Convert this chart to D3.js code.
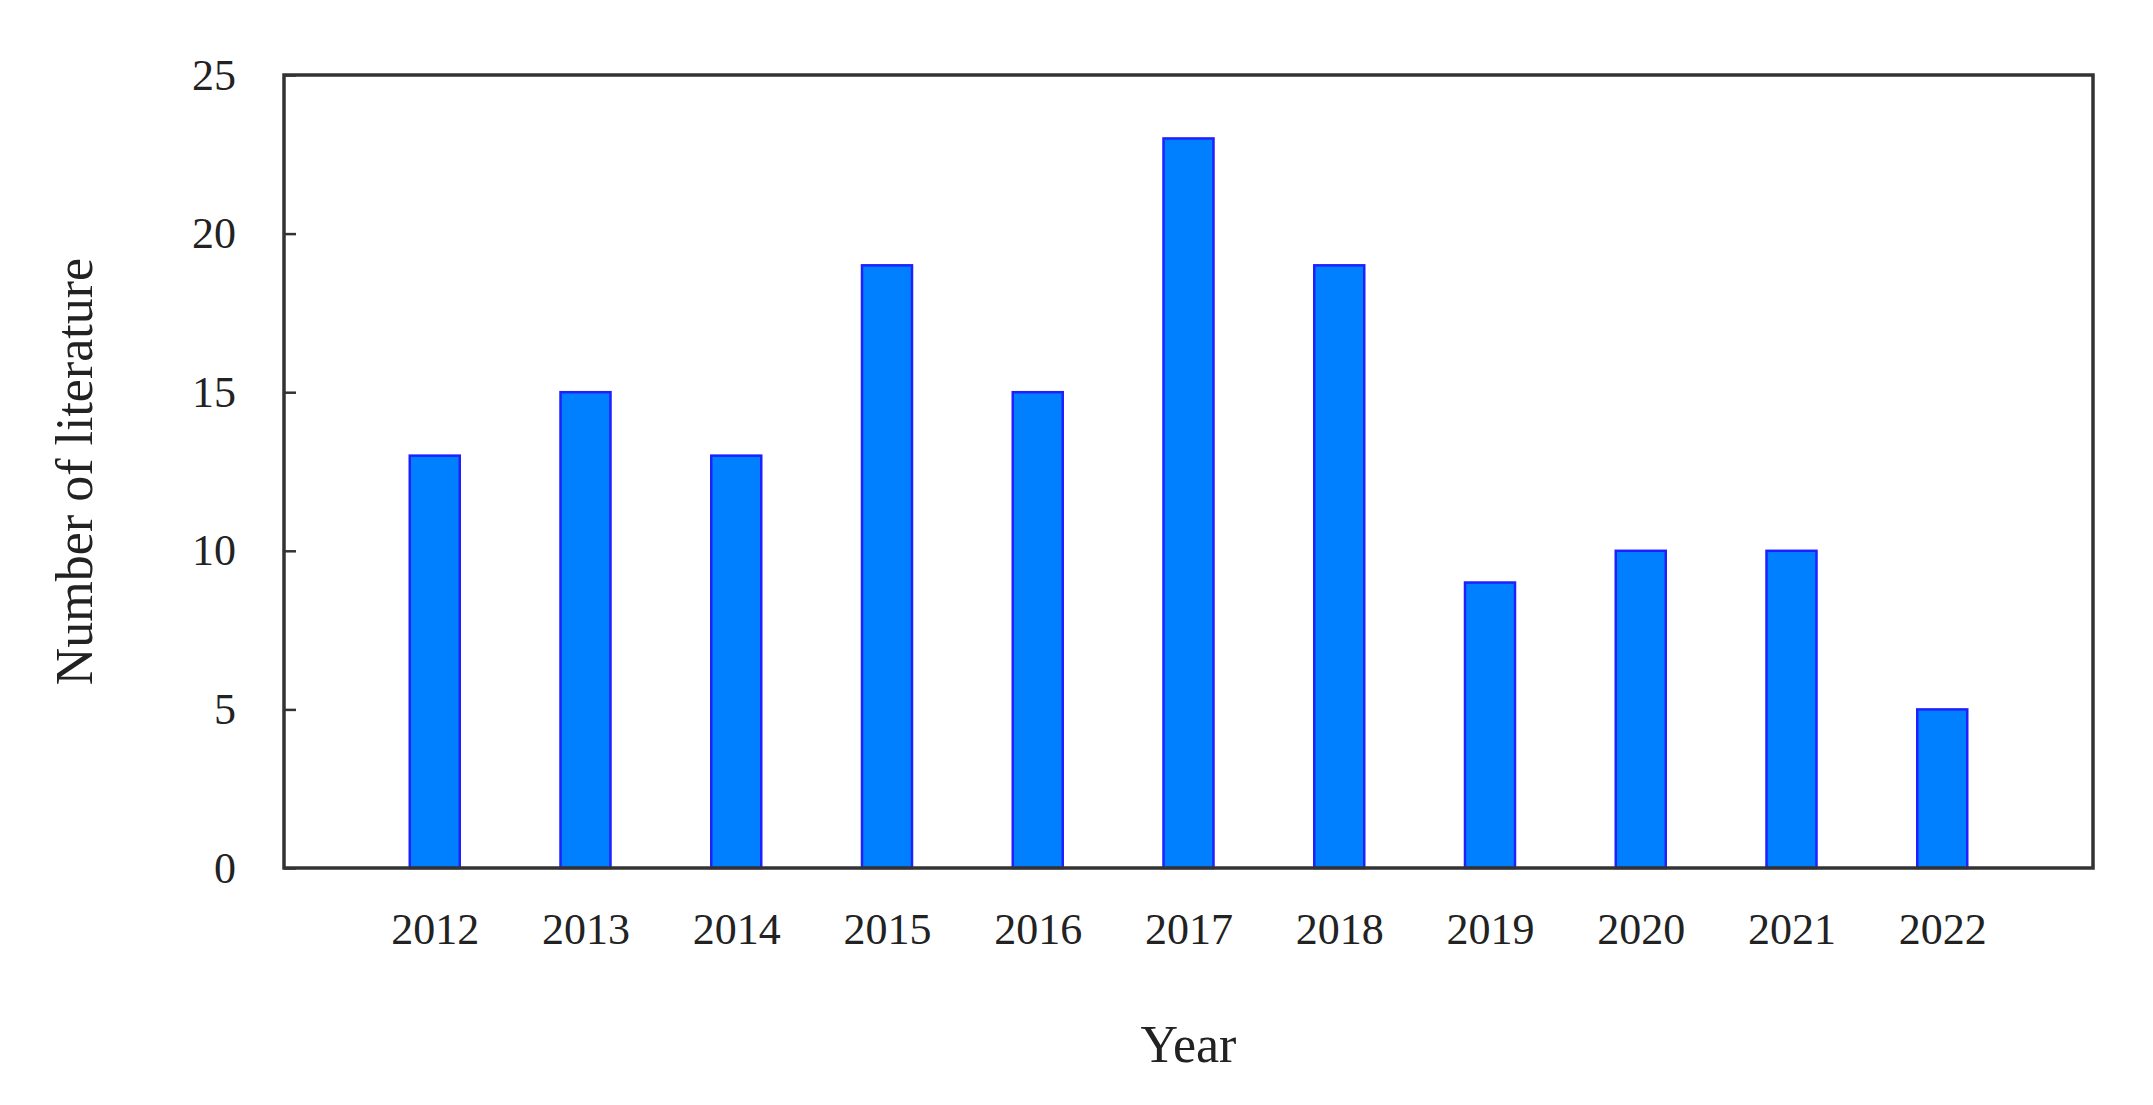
<!DOCTYPE html><html><head><meta charset="utf-8">
<script src="https://cdn.jsdelivr.net/npm/d3@7"></script>
<style>body{margin:0;background:#fff}text{font-family:"Liberation Serif","DejaVu Serif",serif;fill:#222}</style>
</head><body><script>
const years=["2012","2013","2014","2015","2016","2017","2018","2019","2020","2021","2022"];
const counts=[13,15,13,19,15,23,19,9,10,10,5];
const yTicks=[0,5,10,15,20,25];
const W=2153,H=1105,L=284,R=2093,T=75,B=868;
const svg=d3.select("body").append("svg").attr("width",W).attr("height",H);
const x=d3.scalePoint().domain(years).range([L,R]).padding(1);
const y=d3.scaleLinear().domain([0,25]).range([B,T]);
const bw=50;
svg.selectAll("rect.bar").data(years).enter().append("rect").attr("class","bar")
 .attr("x",d=>x(d)-bw/2).attr("width",bw)
 .attr("y",(d,i)=>y(counts[i])).attr("height",(d,i)=>B-y(counts[i]))
 .attr("fill","#0080ff").attr("stroke","#2020ff").attr("stroke-width",2.5);
svg.append("rect").attr("x",L).attr("y",T).attr("width",R-L).attr("height",B-T)
 .attr("fill","none").attr("stroke","#333").attr("stroke-width",3.5);
const ya=svg.append("g").attr("transform",`translate(${L},0)`)
 .call(d3.axisRight(y).tickValues(yTicks).tickSize(12).tickPadding(0).tickFormat(d3.format("d")));
ya.select(".domain").remove();
ya.selectAll("line").attr("stroke","#333").attr("stroke-width",2.5);
ya.selectAll("text").attr("x",-48).attr("text-anchor","end").style("font-size","44px").attr("fill","#222");
const xa=svg.append("g").attr("transform",`translate(0,${B})`)
 .call(d3.axisBottom(x).tickSize(0).tickPadding(45));
xa.select(".domain").remove();
xa.selectAll("text").style("font-size","44px").attr("fill","#222");
svg.append("text").attr("x",(L+R)/2).attr("y",1062).attr("text-anchor","middle").style("font-size","52px").text("Year");
svg.append("text").attr("transform",`translate(92,${(T+B)/2}) rotate(-90)`).attr("text-anchor","middle").style("font-size","52px").text("Number of literature");
</script></body></html>
